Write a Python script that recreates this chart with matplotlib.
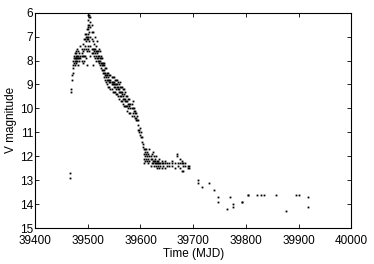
import numpy as np
import matplotlib
matplotlib.use("Agg")
import matplotlib.pyplot as plt

plt.rcParams['font.family'] = ['Liberation Sans', 'DejaVu Sans']
plt.rcParams['font.size'] = 8.5

# observation nights (MJD) and the V magnitudes estimated on each night
nights = [
    39467, 39468, 39470, 39471, 39472, 39473, 39475, 39477, 39478, 39480,
    39482, 39484, 39486, 39488, 39490, 39492, 39494, 39496, 39498, 39500,
    39501, 39503, 39505, 39507, 39509, 39511, 39513, 39515, 39517, 39519,
    39521, 39523, 39525, 39527, 39529, 39531, 39533, 39535, 39537, 39539,
    39541, 39543, 39545, 39547, 39549, 39551, 39553, 39555, 39557, 39559,
    39561, 39563, 39565, 39567, 39569, 39571, 39573, 39575, 39577, 39579,
    39581, 39583, 39585, 39587, 39589, 39591, 39593, 39595, 39597, 39599,
    39601, 39603, 39605, 39607, 39609, 39611, 39613, 39615, 39617, 39619,
    39621, 39623, 39625, 39627, 39629, 39631, 39633, 39635, 39637, 39640,
    39643, 39646, 39650, 39655, 39660, 39665, 39669, 39672, 39675, 39678,
    39681, 39685, 39690, 39693,
    39709, 39717, 39731, 39739, 39748, 39764, 39769, 39776, 39793, 39804,
    39821, 39828, 39834, 39858, 39877, 39895, 39900, 39918,
]
mags = [
    [12.7, 12.9], [9.2, 9.3], [8.8, 8.6], [8.5, 8.3], [8.2, 8.0],
    [7.8, 8.1, 7.9], [7.7, 7.9, 8.0, 8.2], [7.6, 7.8, 7.9, 8.0], [7.7, 7.9, 8.1],
    [7.5, 7.8, 7.9, 8.0],
    [7.6, 7.8, 7.9, 8.2], [7.7, 7.9, 8.0], [7.4, 7.8, 7.9], [7.5, 7.7, 7.8, 8.0],
    [7.3, 7.6, 7.8, 8.1], [7.1, 7.5, 7.8, 8.0], [6.9, 7.1, 7.4, 7.8],
    [6.9, 7.0, 7.2, 7.5, 7.9], [6.7, 7.0, 7.1, 7.6, 8.2], [6.5, 6.7, 6.9, 7.1, 7.4],
    [6.1, 6.3, 6.6, 7.0, 7.5], [6.1, 6.2, 6.5, 6.8, 7.2, 7.6],
    [6.2, 6.4, 6.6, 7.0, 7.4, 7.8], [6.5, 6.8, 7.1, 7.5, 7.7],
    [6.8, 7.2, 7.5, 7.7, 8.2], [7.3, 7.5, 7.6, 7.8], [7.0, 7.5, 7.7, 7.9],
    [7.4, 7.6, 7.8, 8.0], [7.2, 7.6, 7.7, 7.9], [7.6, 7.8, 7.9, 8.0],
    [7.5, 7.8, 8.0, 8.1], [7.6, 7.9, 8.0, 8.2], [7.8, 7.9, 8.1, 8.3],
    [7.9, 8.1, 8.2, 8.4], [8.1, 8.2, 8.4, 8.5], [8.1, 8.2, 8.4, 8.5, 8.7],
    [8.3, 8.5, 8.6, 8.8], [8.3, 8.6, 8.7, 8.9], [8.5, 8.6, 8.8, 9.0],
    [8.5, 8.7, 8.8, 9.1],
    [8.6, 8.8, 8.9, 9.1], [8.6, 8.8, 8.9, 9.2], [8.7, 8.9, 9.0, 9.2],
    [8.7, 8.9, 9.0, 9.3], [8.7, 8.9, 9.0, 9.1, 9.3], [8.8, 9.0, 9.1, 9.3],
    [8.8, 9.0, 9.2, 9.4], [8.8, 9.0, 9.1, 9.4], [8.9, 9.1, 9.2, 9.5],
    [9.0, 9.2, 9.3, 9.6],
    [8.9, 9.1, 9.3, 9.5], [9.1, 9.3, 9.5, 9.7], [9.1, 9.3, 9.4, 9.7],
    [9.2, 9.5, 9.6, 9.8], [9.2, 9.4, 9.6, 9.9], [9.3, 9.6, 9.7, 9.9],
    [9.5, 9.7, 9.9], [9.5, 9.7, 9.9, 10.1], [9.6, 9.8, 10.0], [9.6, 9.8, 9.9, 10.2],
    [9.8, 10.0, 10.2], [9.8, 10.0, 10.3], [9.7, 10.0, 10.2], [10.0, 10.1, 10.3],
    [10.1, 10.2, 10.4], [10.2, 10.4, 10.5], [10.3, 10.5], [10.5, 10.7, 10.9],
    [10.9, 11.0], [10.8, 11.1],
    [11.0, 11.2], [11.2, 11.4], [11.5, 11.6], [11.7, 11.9, 12.1, 12.3],
    [11.7, 11.8, 12.0, 12.2], [11.7, 11.9, 12.1], [11.8, 12.0, 12.2],
    [11.9, 12.1, 12.3], [11.7, 12.0, 12.2], [12.0, 12.1, 12.4],
    [11.9, 12.1, 12.3], [11.8, 12.2, 12.3], [12.0, 12.2, 12.4], [12.1, 12.2, 12.3],
    [12.0, 12.3, 12.4], [12.2, 12.3, 12.5], [12.2, 12.3, 12.4], [12.1, 12.3, 12.5],
    [12.3, 12.4], [12.2, 12.3, 12.5],
    [12.3, 12.4], [12.2, 12.3, 12.5], [12.3, 12.4], [12.3, 12.4], [12.2, 12.3, 12.4],
    [12.3, 12.5], [11.9, 12.0], [12.3, 12.4], [12.1, 12.3, 12.5], [12.2, 12.3, 12.6],
    [12.3, 12.4, 12.6], [12.3, 12.4], [12.4, 12.5], [12.4, 12.5],
    [13.0, 13.1], [13.3], [13.1], [13.4], [13.7, 13.9], [14.2], [13.7], [14.0, 14.1],
    [13.9, 13.9], [13.6, 13.6],
    [13.6], [13.6], [13.6], [13.6], [14.3], [13.6], [13.6], [13.7, 14.1],
]

t = np.concatenate([[n] * len(m) for n, m in zip(nights, mags)])
v = np.concatenate(mags)

fig = plt.figure(figsize=(3.74, 2.64), dpi=100)
ax = fig.add_axes([0.094, 0.136, 0.845, 0.816])
ax.plot(t, v, 's', color='black', markersize=1.3, markeredgewidth=0)

ax.set_xlim(39400, 40000)
ax.set_ylim(15, 6)
ax.set_xticks(np.arange(39400, 40001, 100))
ax.set_yticks(np.arange(6, 16, 1))
ax.tick_params(direction='in', top=True, right=True, length=3, width=0.6)
ax.tick_params(axis='x', pad=5)
ax.tick_params(axis='y', pad=1.5)
for s in ax.spines.values():
    s.set_linewidth(0.8)
ax.set_xlabel('Time (MJD)', labelpad=1)
ax.set_ylabel('V magnitude', labelpad=2)

fig.savefig('out.png', dpi=100)
